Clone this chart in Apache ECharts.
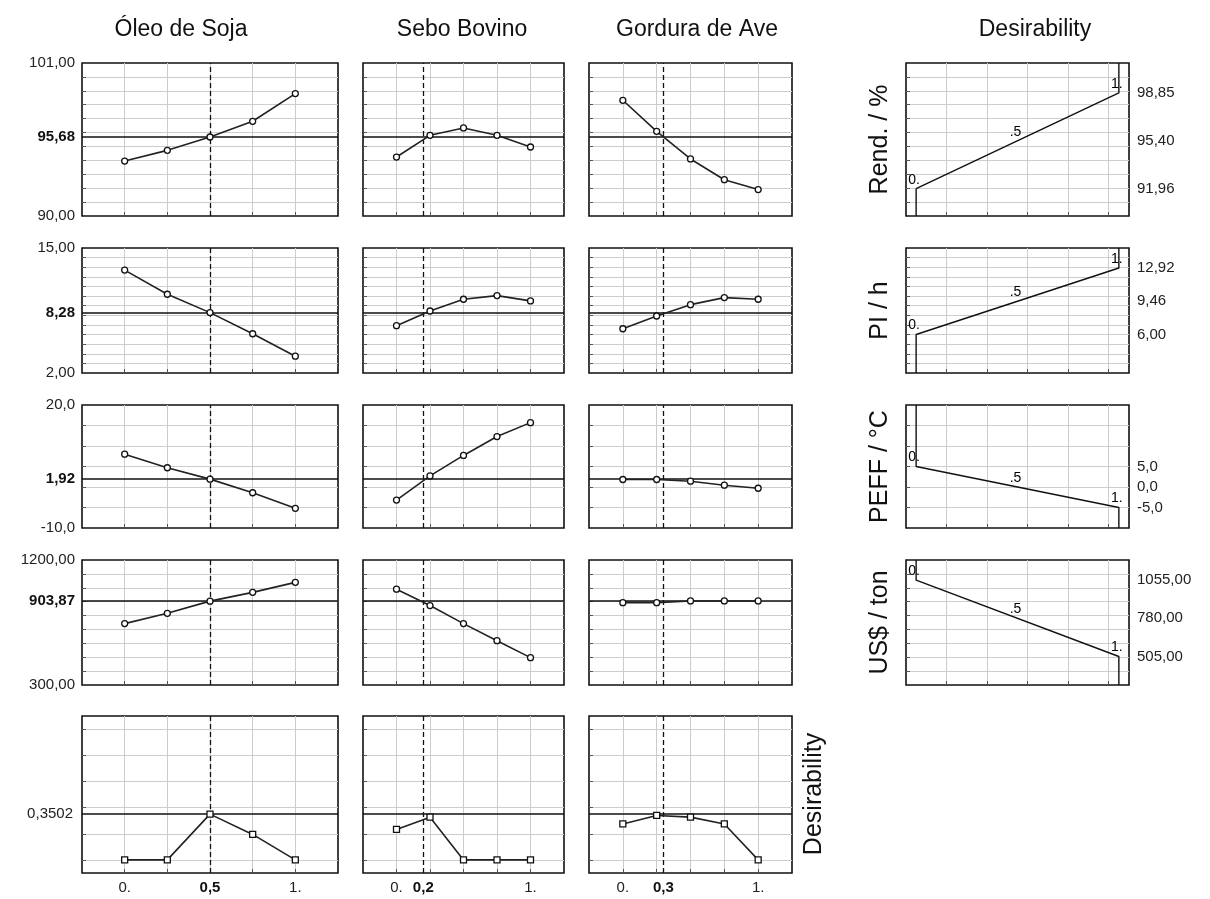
<!DOCTYPE html>
<html>
<head>
<meta charset="utf-8">
<script src="https://cdn.jsdelivr.net/npm/echarts@6/dist/echarts.min.js"></script>
<style>
  html, body { margin: 0; padding: 0; background: #fff; }
  #c { width: 1210px; height: 899px; }
</style>
</head>
<body>
<div id="c"></div>
<script>
// ---- factors (mixture components) ----
const factors = ['Óleo de Soja', 'Sebo Bovino', 'Gordura de Ave'];
const levels = [0, 0.25, 0.5, 0.75, 1];
const factorCurrent = [0.5, 0.2, 0.3];
const factorTickLabels = [['0.', '0,5', '1.'], ['0.', '0,2', '1.'], ['0.', '0,3', '1.']];

// ---- responses ----
const responses = ['Rend. / %', 'PI / h', 'PEFF / °C', 'US$ / ton'];
const respMin = [90, 2, -10, 300];
const respMax = [101, 15, 20, 1200];
const respGridLines = [
  [91, 92, 93, 94, 95, 96, 97, 98, 99, 100],
  [3, 4, 5, 6, 7, 8, 9, 10, 11, 12, 13, 14],
  [-5, 0, 5, 10, 15],
  [400, 500, 600, 700, 800, 900, 1000, 1100]
];
const respCurrent = [95.68, 8.28, 1.92, 903.87];
// labels for [min, current, max]
const respTickLabels = [
  ['90,00', '95,68', '101,00'],
  ['2,00', '8,28', '15,00'],
  ['-10,0', '1,92', '20,0'],
  ['300,00', '903,87', '1200,00']
];

// predicted response profiles, one list per factor
const rendValues = [
  [93.95, 94.72, 95.68, 96.81, 98.80],
  [94.24, 95.80, 96.33, 95.80, 94.96],
  [98.32, 96.09, 94.10, 92.61, 91.90]
];
const piValues = [
  [12.70, 10.19, 8.28, 6.08, 3.75],
  [6.92, 8.45, 9.67, 10.05, 9.50],
  [6.60, 7.93, 9.11, 9.84, 9.67]
];
const peffValues = [
  [8.0, 4.7, 1.92, -1.4, -5.2],
  [-3.2, 2.7, 7.7, 12.3, 15.7],
  [1.83, 1.83, 1.42, 0.44, -0.30]
];
const costValues = [
  [742, 816, 903.87, 967, 1039],
  [990, 872, 742, 619, 497],
  [893, 893, 905, 905, 905]
];

// overall desirability profiles
const desirValues = [
  [0, 0, 0.3502, 0.195, 0],
  [0.233, 0.327, 0, 0, 0],
  [0.275, 0.340, 0.327, 0.275, 0]
];
const desirMin = -0.1, desirMax = 1.1;
const desirGridLines = [0, 0.2, 0.4, 0.6, 0.8, 1.0];
const desirCurrent = 0.3502;
const desirTickLabel = '0,3502';

// desirability functions: response value giving d = 0, 0.5, 1
const dZero = [91.96, 6.00, 5.0, 1055.00];
const dHalf = [95.40, 9.46, 0.0, 780.00];
const dOne = [98.85, 12.92, -5.0, 505.00];
const dLevelLabels = ['0.', '.5', '1.'];
const dAxisLabels = [
  ['91,96', '95,40', '98,85'],
  ['6,00', '9,46', '12,92'],
  ['5,0', '0,0', '-5,0'],
  ['1055,00', '780,00', '505,00']
];
const dGridLines = [0.15, 0.35, 0.55, 0.75, 0.95];

// ---- layout ----
const colBox = [[82, 338], [363, 564], [589, 792]];
const rowBox = [[63, 216], [248, 373], [405, 528], [560, 685], [716, 873]];
const rightBox = [906, 1129];
const titleX = [181, 462, 697, 1035];

const FONT = '"Liberation Sans", Arial, sans-serif';
const INK = '#111';
const gridLine = { show: true, lineStyle: { color: '#cdcdcd', width: 1 } };
const tickStyle = { show: true, inside: true, length: 4, lineStyle: { color: '#555', width: 1 } };
const noLine = { show: false, onZero: false };

function labelFormatter(values, labels, boldValue) {
  return function (v) {
    for (let i = 0; i < values.length; i++) {
      if (Math.abs(values[i] - v) < 1e-6) {
        const bold = boldValue !== undefined && Math.abs(values[i] - boldValue) < 1e-6;
        return (bold ? '{b|' : '{n|') + labels[i] + '}';
      }
    }
    return '';
  };
}
const labelRich = {
  n: { fontFamily: FONT, fontSize: 15, color: '#222' },
  b: { fontFamily: FONT, fontSize: 15, color: '#111', fontWeight: 'bold' }
};

const grids = [], xAxes = [], yAxes = [], series = [];

function addGrid(x0, x1, y0, y1) {
  grids.push({
    left: x0, top: y0, width: x1 - x0, height: y1 - y0,
    show: true, borderColor: INK, borderWidth: 1.6, backgroundColor: '#fff'
  });
  return grids.length - 1;
}

function refLines(yValue, xValue) {
  return {
    silent: true, symbol: ['none', 'none'], animation: false,
    label: { show: false },
    data: [
      { yAxis: yValue, lineStyle: { type: 'solid', color: INK, width: 1.5 } },
      { xAxis: xValue, lineStyle: { type: [5, 3], color: INK, width: 1.3 } }
    ]
  };
}

const respSeries = [rendValues, piValues, peffValues, costValues];

// response profile panels
for (let r = 0; r < 4; r++) {
  for (let c = 0; c < 3; c++) {
    const g = addGrid(colBox[c][0], colBox[c][1], rowBox[r][0], rowBox[r][1]);
    const xi = xAxes.length;
    xAxes.push({
      gridIndex: g, type: 'value', min: -0.25, max: 1.25,
      axisLine: noLine,
      axisTick: Object.assign({}, tickStyle, { customValues: levels }),
      splitLine: gridLine, axisLabel: { show: false }
    });
    const yi = yAxes.length;
    const vals = [respMin[r], respCurrent[r], respMax[r]];
    yAxes.push({
      gridIndex: g, type: 'value', min: respMin[r], max: respMax[r],
      axisLine: noLine,
      axisTick: Object.assign({}, tickStyle, { customValues: respGridLines[r] }),
      splitLine: gridLine,
      axisLabel: c === 0 ? {
        show: true, customValues: vals, margin: 7,
        formatter: labelFormatter(vals, respTickLabels[r], respCurrent[r]), rich: labelRich
      } : { show: false }
    });
    series.push({
      type: 'line', xAxisIndex: xi, yAxisIndex: yi,
      data: levels.map((x, i) => [x, respSeries[r][c][i]]),
      symbol: 'circle', symbolSize: 6,
      itemStyle: { color: '#fff', borderColor: INK, borderWidth: 1.3 },
      lineStyle: { color: '#222', width: 1.6 },
      markLine: refLines(respCurrent[r], factorCurrent[c]),
      z: 5
    });
  }
}

// overall desirability panels
for (let c = 0; c < 3; c++) {
  const g = addGrid(colBox[c][0], colBox[c][1], rowBox[4][0], rowBox[4][1]);
  const xi = xAxes.length;
  const xVals = [0, factorCurrent[c], 1];
  xAxes.push({
    gridIndex: g, type: 'value', min: -0.25, max: 1.25,
    axisLine: noLine,
    axisTick: Object.assign({}, tickStyle, { customValues: levels }),
    splitLine: gridLine,
    axisLabel: {
      show: true, customValues: xVals, margin: 7,
      formatter: labelFormatter(xVals, factorTickLabels[c], factorCurrent[c]), rich: labelRich
    }
  });
  const yi = yAxes.length;
  yAxes.push({
    gridIndex: g, type: 'value', min: desirMin, max: desirMax,
    axisLine: noLine,
    axisTick: Object.assign({}, tickStyle, { customValues: desirGridLines }),
    splitLine: gridLine,
    axisLabel: c === 0 ? {
      show: true, customValues: [desirCurrent], margin: 9,
      formatter: labelFormatter([desirCurrent], [desirTickLabel]), rich: labelRich
    } : { show: false }
  });
  series.push({
    type: 'line', xAxisIndex: xi, yAxisIndex: yi,
    data: levels.map((x, i) => [x, desirValues[c][i]]),
    symbol: 'rect', symbolSize: 6,
    itemStyle: { color: '#fff', borderColor: INK, borderWidth: 1.3 },
    lineStyle: { color: '#222', width: 1.6 },
    markLine: refLines(desirCurrent, factorCurrent[c]),
    z: 5
  });
}

// desirability function panels
for (let r = 0; r < 4; r++) {
  const g = addGrid(rightBox[0], rightBox[1], rowBox[r][0], rowBox[r][1]);
  const xi = xAxes.length;
  xAxes.push({
    gridIndex: g, type: 'value', min: -0.05, max: 1.05,
    axisLine: noLine,
    axisTick: Object.assign({}, tickStyle, { customValues: dGridLines }),
    splitLine: gridLine, axisLabel: { show: false }
  });
  const yi = yAxes.length;
  yAxes.push({
    gridIndex: g, type: 'value', min: respMin[r], max: respMax[r],
    axisLine: noLine,
    axisTick: Object.assign({}, tickStyle, { customValues: respGridLines[r] }),
    splitLine: gridLine, axisLabel: { show: false }
  });
  const dVals = [dZero[r], dHalf[r], dOne[r]];
  yAxes.push({
    gridIndex: g, type: 'value', position: 'right', min: respMin[r], max: respMax[r],
    axisLine: noLine, axisTick: { show: false }, splitLine: { show: false },
    axisLabel: {
      show: true, customValues: dVals, margin: 8,
      formatter: labelFormatter(dVals, dAxisLabels[r]), rich: labelRich
    }
  });
  const maximize = dOne[r] > dZero[r];
  const startEdge = maximize ? respMin[r] : respMax[r];
  const endEdge = maximize ? respMax[r] : respMin[r];
  series.push({
    type: 'line', xAxisIndex: xi, yAxisIndex: yi,
    data: [[0, startEdge], [0, dZero[r]], [1, dOne[r]], [1, endEdge]],
    symbol: 'none', lineStyle: { color: '#111', width: 1.4 }, z: 5
  });
  // level markers along the desirability function
  series.push({
    type: 'scatter', xAxisIndex: xi, yAxisIndex: yi,
    data: [[0, dZero[r]], [0.5, dHalf[r]], [1, dOne[r]]],
    symbolSize: 2, itemStyle: { color: 'rgba(0,0,0,0)' },
    label: {
      show: true, position: 'top', distance: 1, offset: [-2, 0],
      formatter: p => dLevelLabels[p.dataIndex],
      fontFamily: FONT, fontSize: 14, color: '#000', opacity: 1
    },
    z: 6
  });
}

// column titles and row names
const graphics = [];
const titles = factors.concat(['Desirability']);
titles.forEach((t, i) => {
  graphics.push({
    type: 'text', x: titleX[i], y: 30,
    style: { text: t, fontFamily: FONT, fontSize: 23, fill: INK, align: 'center', verticalAlign: 'middle' }
  });
});
responses.forEach((t, r) => {
  graphics.push({
    type: 'text', x: 880, y: (rowBox[r][0] + rowBox[r][1]) / 2, rotation: Math.PI / 2,
    style: { text: t, fontFamily: FONT, fontSize: 25, fill: INK, align: 'center', verticalAlign: 'middle' }
  });
});
graphics.push({
  type: 'text', x: 814, y: 794, rotation: Math.PI / 2,
  style: { text: 'Desirability', fontFamily: FONT, fontSize: 25, fill: INK, align: 'center', verticalAlign: 'middle' }
});

const chart = echarts.init(document.getElementById('c'));
chart.setOption({
  backgroundColor: '#fff',
  animation: false,
  grid: grids,
  xAxis: xAxes,
  yAxis: yAxes,
  series: series,
  graphic: graphics
});
</script>
</body>
</html>
